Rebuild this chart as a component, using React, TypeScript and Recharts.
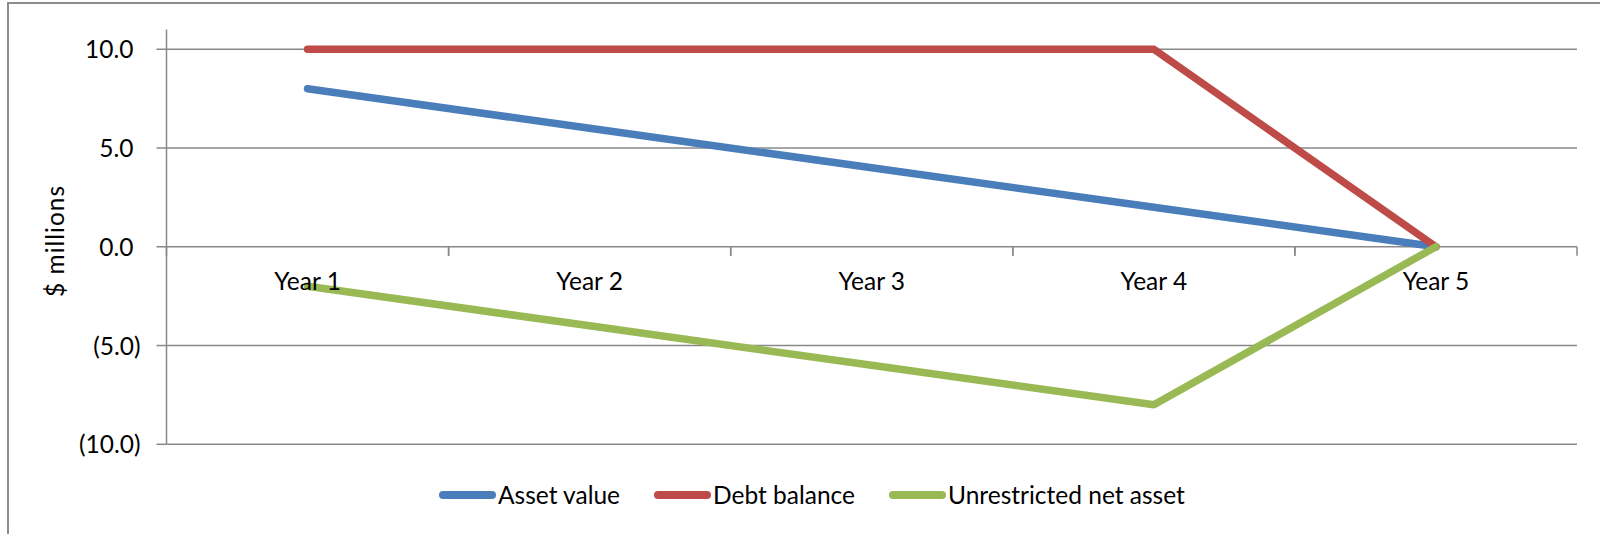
import { CartesianGrid, Label, Line, LineChart, XAxis, YAxis } from "recharts";

// Categories and series values ($ millions)
const YEARS = ["Year 1", "Year 2", "Year 3", "Year 4", "Year 5"];
const ASSET_VALUE = [8, 6, 4, 2, 0];
const DEBT_BALANCE = [10, 10, 10, 10, 0];
const UNRESTRICTED_NET_ASSET = [-2, -4, -6, -8, 0];
const Y_TICKS = [-10, -5, 0, 5, 10];

const SERIES = [
  { key: "asset", name: "Asset value", color: "#4A7EBB", values: ASSET_VALUE },
  { key: "debt", name: "Debt balance", color: "#BE4B48", values: DEBT_BALANCE },
  {
    key: "unrestricted",
    name: "Unrestricted net asset",
    color: "#98B954",
    values: UNRESTRICTED_NET_ASSET,
  },
];

const data = YEARS.map((year, i) => {
  const row: Record<string, string | number> = { year };
  SERIES.forEach((s) => {
    row[s.key] = s.values[i];
  });
  return row;
});

const W = 1600;
const H = 534;
const Y_MIN = -10;
const Y_MAX = 11;
const Y_AXIS_W = 166.5;
const X_AXIS_H = 30;
const MARGIN = { top: 29.5, right: 23, bottom: 59.7, left: 0 };
const PLOT_H = H - MARGIN.top - MARGIN.bottom - X_AXIS_H;
const PLOT_W = W - MARGIN.left - MARGIN.right - Y_AXIS_W;
const BAND = PLOT_W / YEARS.length;
// the category axis crosses the value axis at zero
const ZERO_Y = MARGIN.top + (PLOT_H * Y_MAX) / (Y_MAX - Y_MIN);

const FONT = "Lato, 'Open Sans', sans-serif";
const FONT_SIZE = 24.5;
const GRID = "#888888";
// chart frame: left/top edges only, the rest runs off the page
const FRAME_X = 7;
const FRAME_Y = 2;

function fmt(v: number) {
  return v < 0 ? `(${Math.abs(v).toFixed(1)})` : v.toFixed(1);
}

function YearTick(props: any) {
  const { x, payload } = props;
  return (
    <g>
      <line x1={x - BAND / 2} x2={x - BAND / 2} y1={ZERO_Y} y2={ZERO_Y + 9} stroke={GRID} strokeWidth={1.5} />
      <line x1={x + BAND / 2} x2={x + BAND / 2} y1={ZERO_Y} y2={ZERO_Y + 9} stroke={GRID} strokeWidth={1.5} />
      <text x={x} y={ZERO_Y + 43} textAnchor="middle" fontFamily={FONT} fontSize={FONT_SIZE} fill="#000">
        {payload.value}
      </text>
    </g>
  );
}

function ValueTick(props: any) {
  const { x, y, payload } = props;
  const v = payload.value as number;
  return (
    <text x={v >= 0 ? x - 7 : x} y={y + 9} textAnchor="end" fontFamily={FONT} fontSize={FONT_SIZE} fill="#000">
      {fmt(v)}
    </text>
  );
}

export default function App() {
  return (
    <div style={{ position: "absolute", left: 0, top: 0, width: W, height: H, overflow: "hidden", background: "#fff" }}>
      <div
        style={{
          position: "absolute",
          left: FRAME_X,
          top: FRAME_Y,
          right: -20,
          bottom: -20,
          borderLeft: "2px solid #8c8c8c",
          borderTop: "2px solid #8c8c8c",
          boxSizing: "border-box",
        }}
      />
      <div style={{ position: "absolute", left: 0, top: 0 }}>
        <LineChart width={W} height={H} data={data} margin={MARGIN}>
          <CartesianGrid vertical={false} horizontalValues={Y_TICKS} stroke={GRID} strokeWidth={1.5} />
          <XAxis
            dataKey="year"
            scale="band"
            height={X_AXIS_H}
            axisLine={false}
            tickLine={false}
            tick={<YearTick />}
            interval={0}
          />
          <YAxis
            width={Y_AXIS_W}
            domain={[Y_MIN, Y_MAX]}
            ticks={Y_TICKS}
            allowDataOverflow
            axisLine={{ stroke: GRID, strokeWidth: 1.5 }}
            tickLine={{ stroke: GRID, strokeWidth: 1.5 }}
            tickSize={10}
            tickMargin={16}
            tick={<ValueTick />}
          >
            <Label
              content={({ viewBox }: any) => {
                const cy = viewBox.y + viewBox.height / 2 + 4;
                return (
                  <text
                    x={58}
                    y={cy}
                    transform={`rotate(-90 58 ${cy})`}
                    textAnchor="middle"
                    dominantBaseline="middle"
                    fontFamily={FONT}
                    fontSize={FONT_SIZE}
                    letterSpacing={1}
                    fill="#000"
                  >
                    $ millions
                  </text>
                );
              }}
            />
          </YAxis>
          {SERIES.map((s) => (
            <Line
              key={s.key}
              dataKey={s.key}
              name={s.name}
              stroke={s.color}
              strokeWidth={7.5}
              strokeLinecap="round"
              strokeLinejoin="round"
              dot={false}
              activeDot={false}
              isAnimationActive={false}
            />
          ))}
        </LineChart>
      </div>
      <div
        style={{
          position: "absolute",
          left: 439,
          top: 480,
          display: "flex",
          alignItems: "center",
          fontFamily: FONT,
          fontSize: FONT_SIZE,
          color: "#000",
        }}
      >
        {SERIES.map((s, i) => (
          <div key={s.key} style={{ display: "flex", alignItems: "center", marginLeft: i === 0 ? 0 : 34 }}>
            <span
              style={{
                display: "inline-block",
                width: 57,
                height: 8,
                borderRadius: 4,
                background: s.color,
                marginRight: 2,
              }}
            />
            <span style={{ lineHeight: "30px" }}>{s.name}</span>
          </div>
        ))}
      </div>
    </div>
  );
}
